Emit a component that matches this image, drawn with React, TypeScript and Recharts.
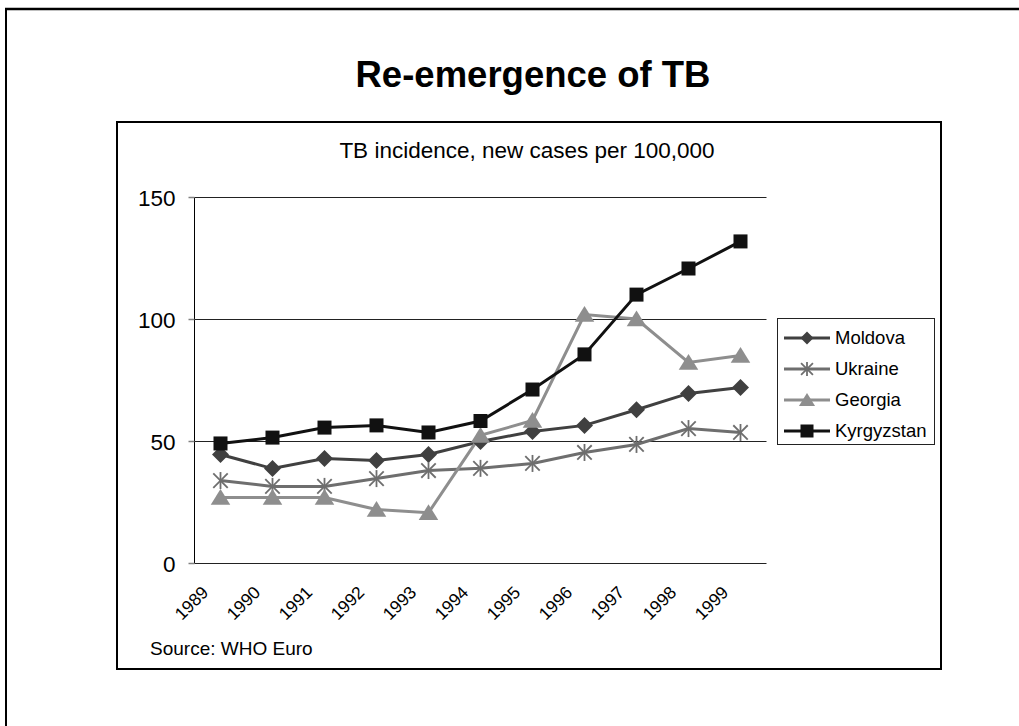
import React from 'react';
import { LineChart, Line, XAxis, YAxis, CartesianGrid, Legend } from 'recharts';

const years = ['1989', '1990', '1991', '1992', '1993', '1994', '1995', '1996', '1997', '1998', '1999'];
const moldova = [44.7, 38.9, 43, 42.2, 44.7, 50, 54.1, 56.6, 63, 69.7, 72.1];
const ukraine = [34, 31.6, 31.6, 34.8, 38.1, 39, 41, 45.5, 48.8, 55.3, 53.7];
const georgia = [27, 27, 27, 22.1, 20.8, 52.5, 58.6, 102, 100.2, 82.4, 85.2];
const kyrgyzstan = [49.2, 51.6, 55.7, 56.6, 53.7, 58.4, 71.3, 85.7, 110.2, 120.9, 132];
const yTicks = [0, 50, 100, 150];

const data = years.map((y, i) => ({
  x: i + 0.5,
  year: y,
  Moldova: moldova[i],
  Ukraine: ukraine[i],
  Georgia: georgia[i],
  Kyrgyzstan: kyrgyzstan[i],
}));

const labelTicks = years.map((_, i) => i + 0.5);
const markTicks = years.map((_, i) => i).concat([years.length]);

const FONT = '"Liberation Sans", Arial, Helvetica, sans-serif';

const C_MOL = '#404040';
const C_UKR = '#6e6e6e';
const C_GEO = '#8e8e8e';
const C_KYR = '#111111';

function Diamond({ cx, cy, s, color }: any) {
  return <polygon points={`${cx},${cy - s} ${cx + s},${cy} ${cx},${cy + s} ${cx - s},${cy}`} fill={color} />;
}
function Square({ cx, cy, s, color }: any) {
  return <rect x={cx - s} y={cy - s} width={2 * s} height={2 * s} fill={color} />;
}
function Triangle({ cx, cy, s, color }: any) {
  return <polygon points={`${cx},${cy - s} ${cx + s * 1.15},${cy + s * 0.85} ${cx - s * 1.15},${cy + s * 0.85}`} fill={color} />;
}
function Asterisk({ cx, cy, s, color }: any) {
  const d = s * 0.85;
  return (
    <g stroke={color} strokeWidth={1.8}>
      <line x1={cx} y1={cy - s} x2={cx} y2={cy + s} />
      <line x1={cx - d} y1={cy - d} x2={cx + d} y2={cy + d} />
      <line x1={cx - d} y1={cy + d} x2={cx + d} y2={cy - d} />
    </g>
  );
}

const mk = (Shape: any, s: number, color: string) => (props: any) => {
  const { cx, cy, index } = props;
  if (cx == null || cy == null) return <g key={index} />;
  return (
    <g key={index}>
      <Shape cx={cx} cy={cy} s={s} color={color} />
    </g>
  );
};

const series = [
  { key: 'Moldova', color: C_MOL, Shape: Diamond, s: 8.5, ls: 6.5 },
  { key: 'Ukraine', color: C_UKR, Shape: Asterisk, s: 8.5, ls: 7 },
  { key: 'Georgia', color: C_GEO, Shape: Triangle, s: 8.5, ls: 7 },
  { key: 'Kyrgyzstan', color: C_KYR, Shape: Square, s: 7, ls: 6.5 },
];

const YTick = (props: any) => {
  const { x, y, payload } = props;
  return (
    <text x={x - 11} y={y} dy="0.36em" textAnchor="end" fontSize={22.5} fill="#000" fontFamily={FONT}>
      {payload.value}
    </text>
  );
};

const XLabelTick = (props: any) => {
  const { x, y, payload } = props;
  const label = years[Math.floor(payload.value)];
  const ax = x - 11;
  const ay = y + 22;
  return (
    <text
      x={ax}
      y={ay}
      textAnchor="end"
      fontSize={17.5}
      fill="#000"
      fontFamily={FONT}
      transform={`rotate(-45, ${ax}, ${ay})`}
    >
      {label}
    </text>
  );
};

const renderLegend = () => (
  <div
    style={{
      width: 158,
      height: 127,
      border: '1.5px solid #222',
      boxSizing: 'border-box',
      background: '#fff',
      paddingTop: 3,
      fontFamily: FONT,
    }}
  >
    {series.map((s) => (
      <div key={s.key} style={{ display: 'flex', alignItems: 'center', height: 31 }}>
        <svg width={53} height={20} style={{ marginLeft: 4 }}>
          <line x1={2} y1={10} x2={48} y2={10} stroke={s.color} strokeWidth={3} />
          <s.Shape cx={25} cy={10} s={s.ls} color={s.color} />
        </svg>
        <span style={{ fontSize: 18.5, color: '#000', marginLeft: 0 }}>{s.key}</span>
      </div>
    ))}
  </div>
);

export default function App() {
  return (
    <div style={{ position: 'absolute', left: 0, top: 0, width: 1019, height: 726, background: '#fff', overflow: 'hidden' }}>
      <svg width={1019} height={726} style={{ position: 'absolute', left: 0, top: 0 }}>
        <line x1={5} y1={9} x2={1019} y2={9} stroke="#000" strokeWidth={2.5} />
        <line x1={6} y1={8} x2={6} y2={726} stroke="#000" strokeWidth={2} />
        <rect x={117} y={122} width={824} height={547} fill="#fff" stroke="#000" strokeWidth={2} />
        <text x={533} y={87} textAnchor="middle" fontSize={36.5} fontWeight="bold" fill="#000" fontFamily={FONT}>
          Re-emergence of TB
        </text>
        <text x={527} y={158} textAnchor="middle" fontSize={22.5} fill="#000" fontFamily={FONT}>
          TB incidence, new cases per 100,000
        </text>
        <text x={150} y={655} fontSize={19} fill="#000" fontFamily={FONT}>
          Source: WHO Euro
        </text>
      </svg>
      <div style={{ position: 'absolute', left: 0, top: 0 }}>
        <LineChart width={1019} height={726} data={data} margin={{ top: 197.5, right: 252.5, bottom: 102.5, left: 134.5 }}>
          <CartesianGrid horizontal vertical={false} stroke="#222" strokeWidth={1} />
          <XAxis
            xAxisId="marks"
            dataKey="x"
            type="number"
            domain={[0, 11]}
            ticks={markTicks}
            tickFormatter={() => ''}
            height={0}
            tickSize={6}
            stroke="#808080"
            strokeWidth={2}
            tickLine={{ stroke: '#000', strokeWidth: 1 }}
            interval={0}
          />
          <XAxis
            xAxisId="lab"
            dataKey="x"
            type="number"
            domain={[0, 11]}
            ticks={labelTicks}
            tick={<XLabelTick />}
            height={60}
            axisLine={false}
            tickLine={false}
            interval={0}
          />
          <YAxis
            domain={[0, 150]}
            ticks={yTicks}
            width={60}
            stroke="#000"
            tickSize={6}
            tickLine={{ stroke: '#808080', strokeWidth: 1.5 }}
            tick={<YTick />}
            interval={0}
          />
          <Legend
            layout="vertical"
            align="center"
            verticalAlign="middle"
            content={renderLegend}
            wrapperStyle={{ position: 'absolute', left: 777, top: 318, width: 158, height: 127 }}
          />
          {series.map((s) => (
            <Line
              key={s.key}
              xAxisId="lab"
              dataKey={s.key}
              stroke={s.color}
              strokeWidth={3}
              dot={mk(s.Shape, s.s, s.color)}
              activeDot={false}
              isAnimationActive={false}
            />
          ))}
        </LineChart>
      </div>
    </div>
  );
}
